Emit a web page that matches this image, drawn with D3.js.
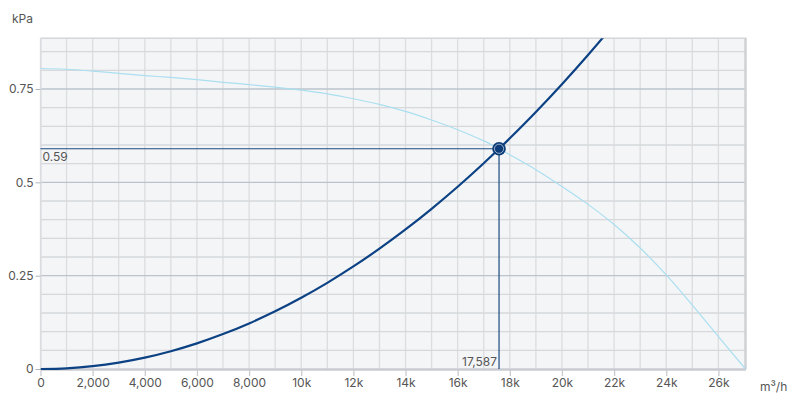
<!DOCTYPE html>
<html><head><meta charset="utf-8">
<script src="https://cdn.jsdelivr.net/npm/d3@7"></script>
<style>body{margin:0;background:#fff}svg{display:block}text{font-family:Inter,"Noto Sans",sans-serif}</style>
</head><body><svg id="c" width="799" height="405"></svg>
<script>
const systemFlow=[0,1000,2000,3000,4000,5000,6000,7000,8000,9000,10000,11000,12000,13000,14000,15000,16000,17000,17587,18000,19000,20000,21000,22000];
const systemPressure=[0,0.0019,0.0076,0.0172,0.0305,0.0477,0.0687,0.0935,0.1221,0.1545,0.1908,0.2308,0.2747,0.3224,0.3739,0.4292,0.4883,0.5513,0.59,0.6180,0.6886,0.7630,0.8412,0.9232];
const fanFlow=[0,1000,2000,3000,4000,5000,6000,7000,8000,9000,10000,11000,12000,13000,14000,15000,16000,17000,17587,18000,19000,20000,21000,22000,23000,24000,25000,26000,27040];
const fanPressure=[0.805,0.803,0.798,0.792,0.786,0.781,0.775,0.768,0.762,0.755,0.747,0.737,0.724,0.709,0.690,0.667,0.641,0.611,0.59,0.574,0.534,0.489,0.441,0.387,0.324,0.252,0.171,0.087,0];
const opFlow=[17587];
const opPressure=[0.59];
const opFlowLabel=["17,587"];
const opPressureLabel=["0.59"];
const xTicks=[0,2000,4000,6000,8000,10000,12000,14000,16000,18000,20000,22000,24000,26000];
const xTickLabels=["0","2,000","4,000","6,000","8,000","10k","12k","14k","16k","18k","20k","22k","24k","26k"];
const yTicks=[0,0.25,0.5,0.75];
const yTickLabels=["0","0.25","0.5","0.75"];
const xUnit="m³/h", yUnit="kPa";

const svg=d3.select("#c");
const L=40.5,R=745.5,T=38.25,B=369;
const x=d3.scaleLinear().domain([0,27040]).range([L,R]);
const y=d3.scaleLinear().domain([0,0.886]).range([B,T]);

svg.append("rect").attr("x",L).attr("y",T).attr("width",R-L).attr("height",B-T).attr("fill","#f4f5f7");
const g=svg.append("g");
g.selectAll(".vg").data(d3.range(0,27000,1000)).join("line")
 .attr("x1",d=>x(d)).attr("x2",d=>x(d)).attr("y1",T).attr("y2",B)
 .attr("stroke","#dcdde0").attr("stroke-width",1.3);
g.selectAll(".hg").data(d3.range(1,18).map(i=>i*0.05).filter(v=>Math.abs(v/0.25-Math.round(v/0.25))>1e-6)).join("line")
 .attr("x1",L).attr("x2",R).attr("y1",d=>y(d)).attr("y2",d=>y(d))
 .attr("stroke","#d6d8dc").attr("stroke-width",1.3);
g.selectAll(".hm").data(yTicks.filter(v=>v>0)).join("line")
 .attr("x1",L).attr("x2",R).attr("y1",d=>y(d)).attr("y2",d=>y(d))
 .attr("stroke","#bcc3cd").attr("stroke-width",1.3);
svg.append("line").attr("x1",L).attr("x2",R+1).attr("y1",T).attr("y2",T).attr("stroke","#d4d6da").attr("stroke-width",1.5);
svg.append("line").attr("x1",R).attr("x2",R).attr("y1",T).attr("y2",B).attr("stroke","#cfd1d5").attr("stroke-width",2.5);

svg.append("clipPath").attr("id","clip").append("rect").attr("x",L).attr("y",T).attr("width",R-L).attr("height",B-T+2);

const xAxis=d3.axisBottom(x).tickValues(xTicks).tickFormat((d,i)=>xTickLabels[i]).tickSize(7).tickSizeOuter(0);
const ga=svg.append("g").attr("transform",`translate(0,${B})`).call(xAxis);
ga.select(".domain").attr("stroke","#c9cbd0").attr("stroke-width",2.5);
ga.selectAll(".tick line").attr("stroke","#c9cbd0").attr("stroke-width",1.3);
ga.selectAll(".tick text").attr("fill","#555").attr("font-size",12).attr("dy","0.95em").attr("y",7);
const yAxis=d3.axisLeft(y).tickValues(yTicks).tickFormat((d,i)=>yTickLabels[i]).tickSize(5).tickSizeOuter(0);
const gy=svg.append("g").attr("transform",`translate(${L},0)`).call(yAxis);
gy.select(".domain").attr("stroke","#dcdde0").attr("stroke-width",1.3);
gy.selectAll(".tick line").attr("stroke","#b0b6be");
gy.selectAll(".tick text").attr("fill","#555").attr("font-size",12).attr("x",-7);

svg.append("text").attr("x",12).attr("y",23).attr("fill","#555").attr("font-size",12).text(yUnit);
svg.append("text").attr("x",760).attr("y",391).attr("fill","#555").attr("font-size",12).text(xUnit);

const cg=svg.append("g").attr("clip-path","url(#clip)");
const fanLine=d3.line().x((d,i)=>x(fanFlow[i])).y(d=>y(d)).curve(d3.curveCatmullRom);
cg.append("path").attr("d",fanLine(fanPressure)).attr("fill","none").attr("stroke","#aadff0").attr("stroke-width",1.2);
const sysLine=d3.line().x((d,i)=>x(systemFlow[i])).y(d=>y(d)).curve(d3.curveCatmullRom);
cg.append("path").attr("d",sysLine(systemPressure)).attr("fill","none").attr("stroke","#0c4284").attr("stroke-width",2.2);

const ox=x(opFlow[0]), oy=y(opPressure[0]);
svg.append("line").attr("x1",L).attr("x2",ox).attr("y1",oy).attr("y2",oy).attr("stroke","#1a4a80").attr("stroke-width",1.2);
svg.append("line").attr("x1",ox).attr("x2",ox).attr("y1",oy).attr("y2",B).attr("stroke","#1a4a80").attr("stroke-width",1.2);
svg.append("text").attr("x",L+2).attr("y",oy+12).attr("fill","#555").attr("font-size",12).text(opPressureLabel[0]);
svg.append("text").attr("x",ox-2).attr("y",B-3).attr("text-anchor","end").attr("fill","#555").attr("font-size",12).text(opFlowLabel[0]);
svg.append("circle").attr("cx",ox).attr("cy",oy).attr("r",6.8).attr("fill","#0c3d78");
svg.append("circle").attr("cx",ox).attr("cy",oy).attr("r",4.6).attr("fill","none").attr("stroke","#b8c9de").attr("stroke-width",0.8);
</script></body></html>
